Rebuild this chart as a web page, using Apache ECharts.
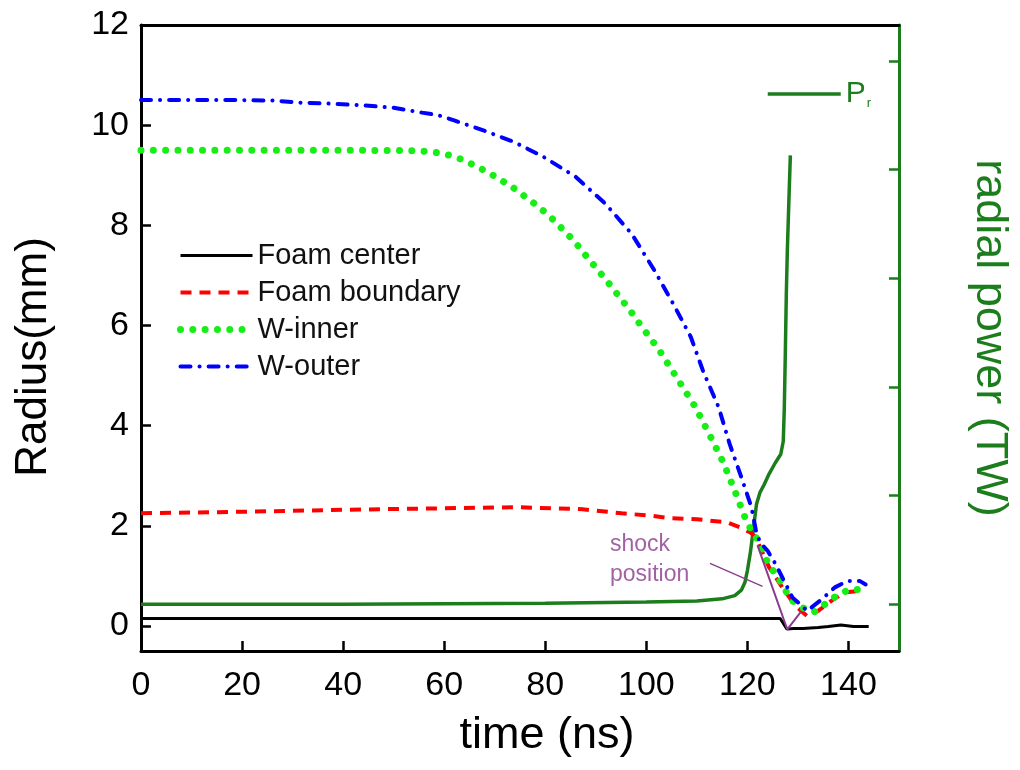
<!DOCTYPE html>
<html>
<head>
<meta charset="utf-8">
<script src="https://cdn.jsdelivr.net/npm/echarts@6/dist/echarts.min.js"></script>
<style>
html,body{margin:0;padding:0;background:#fff;overflow:hidden;}
#chart{width:1020px;height:770px;}
</style>
</head>
<body>
<div id="chart"></div>
<script>
// ---- data ----
const xTicks = [0, 20, 40, 60, 80, 100, 120, 140];
const yTicks = [0, 2, 4, 6, 8, 10, 12];
const powerTicks = [0, 1, 2, 3, 4, 5];

const centerT = [0, 20, 40, 60, 80, 100, 120, 126.5, 127.8, 129.2, 131, 134, 136, 138.5, 141, 144];
const centerR = [0.15, 0.15, 0.15, 0.15, 0.15, 0.15, 0.15, 0.15, -0.06, -0.05, -0.05, -0.03, -0.01, 0.02, -0.01, -0.01];

const boundaryT = [0, 20, 40, 60, 75, 87.4, 95.1, 101, 105, 110, 115.9, 118.5, 120.5, 121.6, 124.3, 126.9, 129.5, 131.8, 134, 136.6, 139.2, 142.5];
const boundaryR = [2.25, 2.28, 2.32, 2.35, 2.37, 2.33, 2.25, 2.2, 2.15, 2.13, 2.07, 1.97, 1.87, 1.78, 1.17, 0.77, 0.4, 0.2, 0.3, 0.5, 0.67, 0.7];

const innerT = [0, 20, 40, 55, 58.8, 61, 63.7, 68.5, 73.4, 78.3, 80.9, 85.7, 88, 92.5, 96.8, 98.7, 102.6, 106.2, 109.7, 112.6, 115.2, 117.5, 119.5, 120.8, 122.4, 123.7, 125.3, 126.9, 128.5, 130.8, 133.1, 135.3, 137.6, 140.2, 142.8];
const innerR = [9.5, 9.5, 9.5, 9.49, 9.45, 9.4, 9.31, 9.07, 8.77, 8.4, 8.18, 7.69, 7.4, 6.85, 6.3, 6.03, 5.5, 4.93, 4.37, 3.8, 3.27, 2.7, 2.17, 1.9, 1.67, 1.33, 1.07, 0.83, 0.53, 0.37, 0.27, 0.43, 0.6, 0.73, 0.73];

const outerT = [0, 20, 26.4, 31.5, 37.4, 43.2, 49.8, 55.6, 58.8, 62.1, 67.9, 73.7, 79.6, 86, 91.9, 97.1, 101.6, 105.5, 108.8, 111.3, 114.3, 116.5, 118.8, 120.8, 121.7, 122.5, 124, 125.6, 127.6, 128.9, 130.8, 131.8, 134.7, 137.3, 139.9, 142.2, 143.4];
const outerR = [10.5, 10.5, 10.49, 10.45, 10.43, 10.4, 10.35, 10.25, 10.2, 10.09, 9.89, 9.67, 9.37, 8.97, 8.43, 7.83, 7.1, 6.4, 5.77, 5.07, 4.37, 3.63, 2.97, 2.37, 1.9, 1.67, 1.5, 1.23, 0.83, 0.57, 0.4, 0.3, 0.53, 0.77, 0.9, 0.9, 0.83];

const powerT = [0, 40, 80, 100, 110, 115, 117.5, 118.8, 119.5, 120.0, 120.6, 121.2, 121.8, 122.5, 123.3, 124.3, 125.5, 126.6, 127.1, 127.3, 127.5, 127.7, 127.9, 128.2, 128.5];
const powerP = [0.0, 0.0, 0.01, 0.02, 0.03, 0.05, 0.08, 0.13, 0.2, 0.31, 0.48, 0.7, 0.92, 1.03, 1.1, 1.2, 1.3, 1.38, 1.5, 1.8, 2.3, 2.85, 3.25, 3.7, 4.13];

const shockT = [122.0, 127.9, 130.5];
const shockR = [1.61, -0.07, 0.27];
const arrowFrom = [112.6, 1.25];
const arrowTo = [123.0, 0.79];
const shockTextAt = [92.8, 1.32];
const shockText = 'shock\nposition';

// ---- chart ----
const zip = (a, b) => a.map((v, i) => [v, b[i]]);
const FONT = '"Liberation Sans", Arial, sans-serif';
const PGREEN = '#1c7d1c';
const PURPLE = '#8a3a8e';
const RED = '#ff0000', LIME = '#16ee16', BLUE = '#0000ff';

const styles = {
  'Foam center': {color: '#000', width: 3, type: 'solid'},
  'Foam boundary': {color: RED, width: 4, type: [11, 8]},
  'W-inner': {color: LIME, width: 7, type: [0.01, 12.3], cap: 'round'},
  'W-outer': {color: BLUE, width: 4, type: [10, 9, 0.1, 9], cap: 'round'},
  'Pr': {color: PGREEN, width: 3.5, type: 'solid'}
};

const chart = echarts.init(document.getElementById('chart'), null, {renderer: 'canvas', width: 1020, height: 770});
chart.setOption({
  animation: false,
  backgroundColor: '#fff',
  textStyle: {fontFamily: FONT},
  grid: {left: 141, right: 106, top: 25, bottom: 119, containLabel: false},
  legend: [{
    data: ['Foam center', 'Foam boundary', 'W-inner', 'W-outer'].map(n => ({name: n, lineStyle: styles[n]})),
    orient: 'vertical', left: 177, top: 237, padding: 0,
    itemWidth: 72, itemHeight: 14, itemGap: 0,
    itemStyle: {opacity: 0},
    textStyle: {fontSize: 29, color: '#111', lineHeight: 37, fontFamily: FONT}
  }, {
    data: [{name: 'Pr', lineStyle: styles['Pr']}],
    left: 766, top: 79, padding: 0,
    itemWidth: 73, itemHeight: 14,
    itemStyle: {opacity: 0},
    formatter: () => '{p|P}{s|r}',
    textStyle: {
      fontFamily: FONT,
      rich: {
        p: {fontSize: 30, color: PGREEN, fontFamily: FONT},
        s: {fontSize: 13, color: PGREEN, fontFamily: FONT, padding: [18, 0, 0, 1]}
      }
    }
  }],
  xAxis: [{
    type: 'value', position: 'bottom', min: 0, max: 150, interval: 20,
    axisLine: {onZero: false, lineStyle: {color: '#000', width: 3}},
    axisTick: {inside: true, length: 10, lineStyle: {color: '#000', width: 2.5}, customValues: xTicks},
    axisLabel: {fontSize: 34, color: '#000', margin: 18, customValues: xTicks, fontFamily: FONT},
    splitLine: {show: false},
    name: 'time (ns)', nameLocation: 'middle', nameGap: 62,
    nameTextStyle: {fontSize: 45, color: '#000', fontFamily: FONT, padding: [0, 0, 0, 54]}
  }, {
    type: 'value', position: 'top', min: 0, max: 150,
    axisLine: {onZero: false, lineStyle: {color: '#000', width: 3}},
    axisTick: {show: false}, axisLabel: {show: false}, splitLine: {show: false}
  }],
  yAxis: [{
    type: 'value', position: 'left', min: -0.5, max: 12,
    axisLine: {onZero: false, lineStyle: {color: '#000', width: 3}},
    axisTick: {inside: true, length: 10, lineStyle: {color: '#000', width: 2.5}, customValues: yTicks},
    axisLabel: {fontSize: 34, color: '#000', margin: 12, customValues: yTicks, fontFamily: FONT},
    splitLine: {show: false},
    name: 'Radius(mm)', nameLocation: 'middle', nameRotate: 90, nameGap: 85,
    nameTextStyle: {fontSize: 44, color: '#000', fontFamily: FONT, padding: [0, 38, 0, 0]}
  }, {
    type: 'value', position: 'right', min: -0.43, max: 5.33,
    axisLine: {onZero: false, lineStyle: {color: PGREEN, width: 3}},
    axisTick: {inside: true, length: 10, lineStyle: {color: PGREEN, width: 2.5}, customValues: powerTicks},
    axisLabel: {show: false},
    splitLine: {show: false},
    name: 'radial power (TW)', nameLocation: 'middle', nameRotate: -90, nameGap: 68,
    nameTextStyle: {fontSize: 45, color: PGREEN, fontFamily: FONT}
  }],
  series: [{
    name: 'Pr', type: 'line', yAxisIndex: 1, symbol: 'none', z: 3,
    data: zip(powerT, powerP),
    lineStyle: styles['Pr'], itemStyle: {color: PGREEN}
  }, {
    name: 'Foam center', type: 'line', symbol: 'none', z: 4,
    data: zip(centerT, centerR),
    lineStyle: styles['Foam center'], itemStyle: {color: '#000'}
  }, {
    name: 'Foam boundary', type: 'line', symbol: 'none', z: 4,
    data: zip(boundaryT, boundaryR),
    lineStyle: styles['Foam boundary'], itemStyle: {color: RED}
  }, {
    name: 'W-inner', type: 'line', symbol: 'none', z: 4,
    data: zip(innerT, innerR),
    lineStyle: styles['W-inner'], itemStyle: {color: LIME}
  }, {
    name: 'W-outer', type: 'line', symbol: 'none', z: 4,
    data: zip(outerT, outerR),
    lineStyle: styles['W-outer'], itemStyle: {color: BLUE}
  }, {
    name: 'shock', type: 'line', symbol: 'none', z: 5,
    data: zip(shockT, shockR),
    lineStyle: {color: PURPLE, width: 2},
    markLine: {
      silent: true, symbol: ['none', 'arrow'], symbolSize: [0, 10],
      lineStyle: {color: PURPLE, width: 1.3, type: 'solid'},
      label: {show: false},
      data: [[{coord: arrowFrom}, {coord: arrowTo}]]
    }
  }, {
    name: 'shockLabel', type: 'scatter', symbolSize: 0, z: 6,
    data: [shockTextAt],
    label: {
      show: true, position: 'right', distance: 0, formatter: shockText,
      color: PURPLE, fontSize: 23, lineHeight: 30, align: 'left', fontFamily: FONT
    }
  }]
});
</script>
</body>
</html>
